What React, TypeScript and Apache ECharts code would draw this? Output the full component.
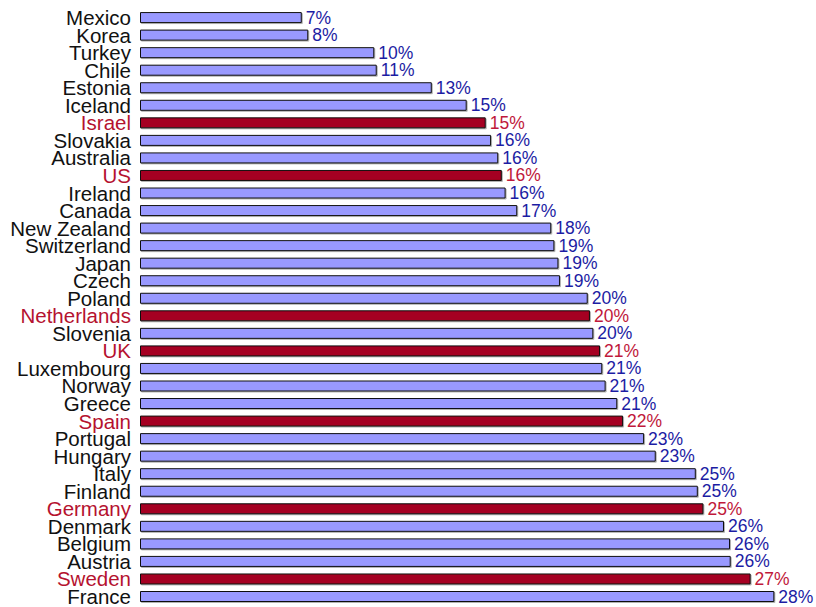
import React, { useEffect, useRef } from "react";
import * as echarts from "echarts";

// Countries listed top to bottom
const countries = [
  "Mexico", "Korea", "Turkey", "Chile", "Estonia", "Iceland", "Israel", "Slovakia",
  "Australia", "US", "Ireland", "Canada", "New Zealand", "Switzerland", "Japan", "Czech",
  "Poland", "Netherlands", "Slovenia", "UK", "Luxembourg", "Norway", "Greece", "Spain",
  "Portugal", "Hungary", "Italy", "Finland", "Germany", "Denmark", "Belgium", "Austria",
  "Sweden", "France",
];

// Share in percent
const shares = [
  7.23, 7.52, 10.47, 10.58, 13.04, 14.6, 15.45, 15.69,
  16.01, 16.17, 16.34, 16.86, 18.38, 18.52, 18.7, 18.77,
  20.01, 20.11, 20.26, 20.56, 20.66, 20.81, 21.33, 21.59,
  22.53, 23.05, 24.84, 24.93, 25.18, 26.1, 26.37, 26.4,
  27.29, 28.35,
];

// Countries drawn in the accent colour
const highlighted = ["Israel", "US", "Netherlands", "UK", "Spain", "Germany", "Sweden"];

const FONT = "'Liberation Sans', Arial, Helvetica, sans-serif";
const BAR_FILL = "#9999ff";
const BAR_ACCENT = "#a50021";
const LABEL_BLUE = "#1c1ca3";
const LABEL_RED = "#c0183a";
const NAME_RED = "#b5122f";

export default function App() {
  const ref = useRef<HTMLDivElement>(null);

  useEffect(() => {
    document.body.style.margin = "0";
    if (!ref.current) return;
    const chart = echarts.init(ref.current, null, { renderer: "svg" });

    const data = shares.map((v, i) => {
      const hot = highlighted.includes(countries[i]);
      return {
        value: v,
        itemStyle: {
          color: hot ? BAR_ACCENT : BAR_FILL,
          borderColor: "#111",
          borderWidth: 1,
          shadowColor: "rgba(0,0,0,0.3)",
          shadowOffsetX: 1,
          shadowOffsetY: 1,
          shadowBlur: 0,
        },
        label: { color: hot ? LABEL_RED : LABEL_BLUE },
      };
    });

    chart.setOption({
      animation: false,
      backgroundColor: "#ffffff",
      grid: { left: 140, top: 8.8, width: 671.25, height: 597, containLabel: false },
      xAxis: {
        type: "value",
        min: 0,
        max: 30,
        show: false,
        splitLine: { show: false },
      },
      yAxis: {
        type: "category",
        inverse: true,
        data: countries,
        axisLine: { show: false },
        axisTick: { show: false },
        axisLabel: {
          interval: 0,
          margin: 9,
          fontFamily: FONT,
          fontSize: 20.5,
          lineHeight: 18,
          color: (value: string) => (highlighted.includes(value) ? NAME_RED : "#111111"),
        },
      },
      series: [
        {
          type: "bar",
          data,
          barWidth: 11,
          label: {
            show: true,
            position: "right",
            distance: 4,
            fontFamily: FONT,
            fontSize: 17.5,
            formatter: (p: any) => `${Math.round(p.value)}%`,
          },
        },
      ],
    });

    return () => chart.dispose();
  }, []);

  return <div ref={ref} style={{ width: 816, height: 607 }} />;
}
